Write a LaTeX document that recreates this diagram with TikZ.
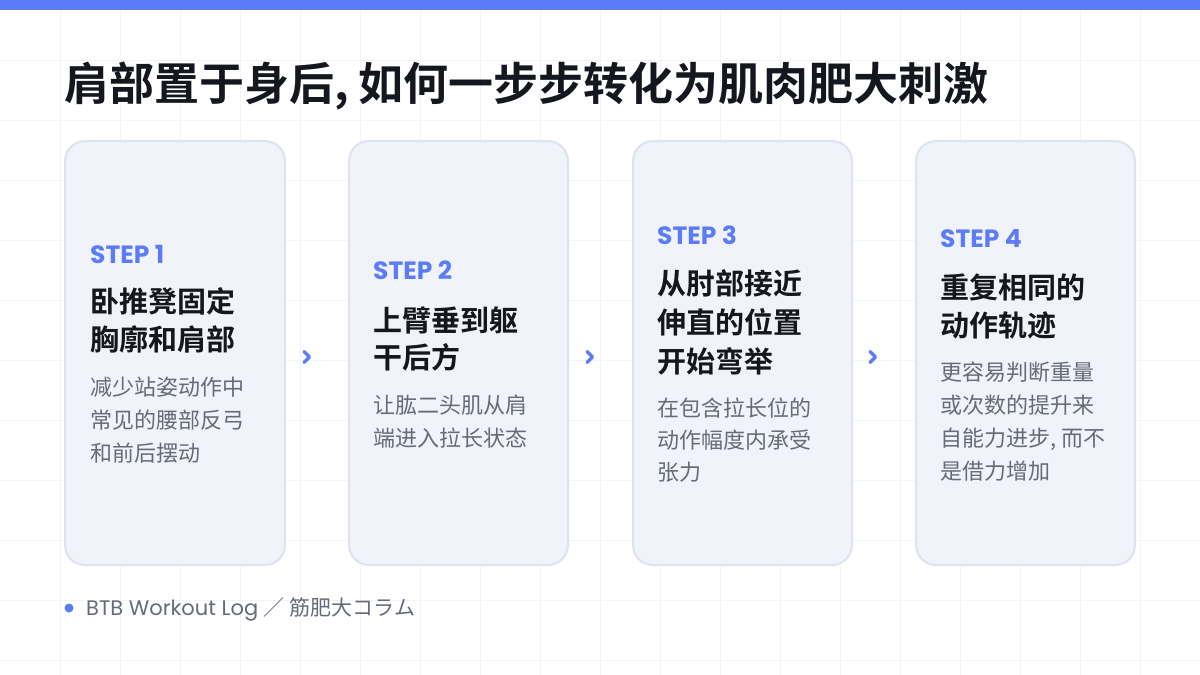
\documentclass[tikz,border=0pt]{standalone}
\usepackage{fontspec}
\setmainfont{Noto Sans CJK SC}
\newfontfamily\cjkbold{Noto Sans CJK SC Bold}
\newfontfamily\latin{Poppins}
\newfontfamily\latinbold{Poppins Bold}
\definecolor{accent}{HTML}{5B7CF5}
\definecolor{cardfill}{HTML}{F1F3FA}
\definecolor{cardline}{HTML}{DFE3EE}
\definecolor{ink}{HTML}{15171F}
\definecolor{muted}{HTML}{666B78}
\definecolor{gridline}{HTML}{F3F4F7}
\begin{document}
\begin{tikzpicture}[x=1pt, y=-1pt,
        card/.style={draw=cardline, line width=2pt, fill=cardfill, rounded corners=20pt},
        step label/.style={anchor=base west, inner sep=0pt, text=accent, font=\latinbold\fontsize{25}{25}\selectfont},
        head line/.style={anchor=base west, inner sep=0pt, text=ink, font=\cjkbold\fontsize{29}{29}\selectfont},
        body line/.style={anchor=base west, inner sep=0pt, text=muted, font=\fontsize{22}{22}\selectfont},
        chevron/.style={draw=accent, line width=3.5pt, line cap=round, line join=round}
    ]
	\useasboundingbox (0,0) rectangle (1200,675);
	\fill[white] (0,0) rectangle (1200,675);
	\foreach \g in {60,120,...,1140} \draw[gridline, line width=1pt] (\g,0) -- (\g,675);
	\foreach \g in {60,120,...,660} \draw[gridline, line width=1pt] (0,\g) -- (1200,\g);
	\fill[accent] (0,0) rectangle (1200,10);

	\node[anchor=base west, inner sep=0pt, text=ink, font=\cjkbold\fontsize{45}{45}\selectfont] (title) at (64,100) {肩部置于身后, 如何一步步转化为肌肉肥大刺激};

	\draw[card] (65,141) rectangle (285,565);
	\draw[card] (349,141) rectangle (568,565);
	\draw[card] (633,141) rectangle (852,565);
	\draw[card] (916,141) rectangle (1135,565);

	% step 1
	\node[step label] (s1) at (90,263) {STEP 1};
	\foreach \t [count=\i] in {卧推凳固定, 胸廓和肩部}
		\node[head line] (h1-\i) at (90,312+38*\i-38) {\t};
	\foreach \t [count=\i] in {减少站姿动作中, 常见的腰部反弓, 和前后摆动}
		\node[body line] (b1-\i) at (90,395+33*\i-33) {\t};

	% step 2
	\node[step label] (s2) at (373,279) {STEP 2};
	\foreach \t [count=\i] in {上臂垂到躯, 干后方}
		\node[head line] (h2-\i) at (373,331+37*\i-37) {\t};
	\foreach \t [count=\i] in {让肱二头肌从肩, 端进入拉长状态}
		\node[body line] (b2-\i) at (373,413+33*\i-33) {\t};

	% step 3
	\node[step label] (s3) at (657,244) {STEP 3};
	\foreach \t [count=\i] in {从肘部接近, 伸直的位置, 开始弯举}
		\node[head line] (h3-\i) at (657,294+39*\i-39) {\t};
	\foreach \t [count=\i] in {在包含拉长位的, 动作幅度内承受, 张力}
		\node[body line] (b3-\i) at (657,416+32*\i-32) {\t};

	% step 4
	\node[step label] (s4) at (940,247) {STEP 4};
	\foreach \t [count=\i] in {重复相同的, 动作轨迹}
		\node[head line] (h4-\i) at (940,298+38*\i-38) {\t};
	\foreach \t [count=\i] in {更容易判断重量, 或次数的提升来, {自能力进步, 而不}, 是借力增加}
		\node[body line] (b4-\i) at (940,380+33*\i-33) {\t};

	% chevrons between cards
	\foreach \cx in {307,590,873}
		\draw[chevron] (\cx-3,351.5) -- (\cx+2.5,357) -- (\cx-3,362.5);

	% footer
	\fill[accent] (69,608) circle (4.5pt);
	\node[anchor=base west, inner sep=0pt, text=muted, font=\latin\fontsize{21}{21}\selectfont] (footer) at (86,615.5) {BTB Workout Log {\fontspec{Noto Sans CJK SC}／ 筋肥大コラム}};
\end{tikzpicture}
\end{document}
